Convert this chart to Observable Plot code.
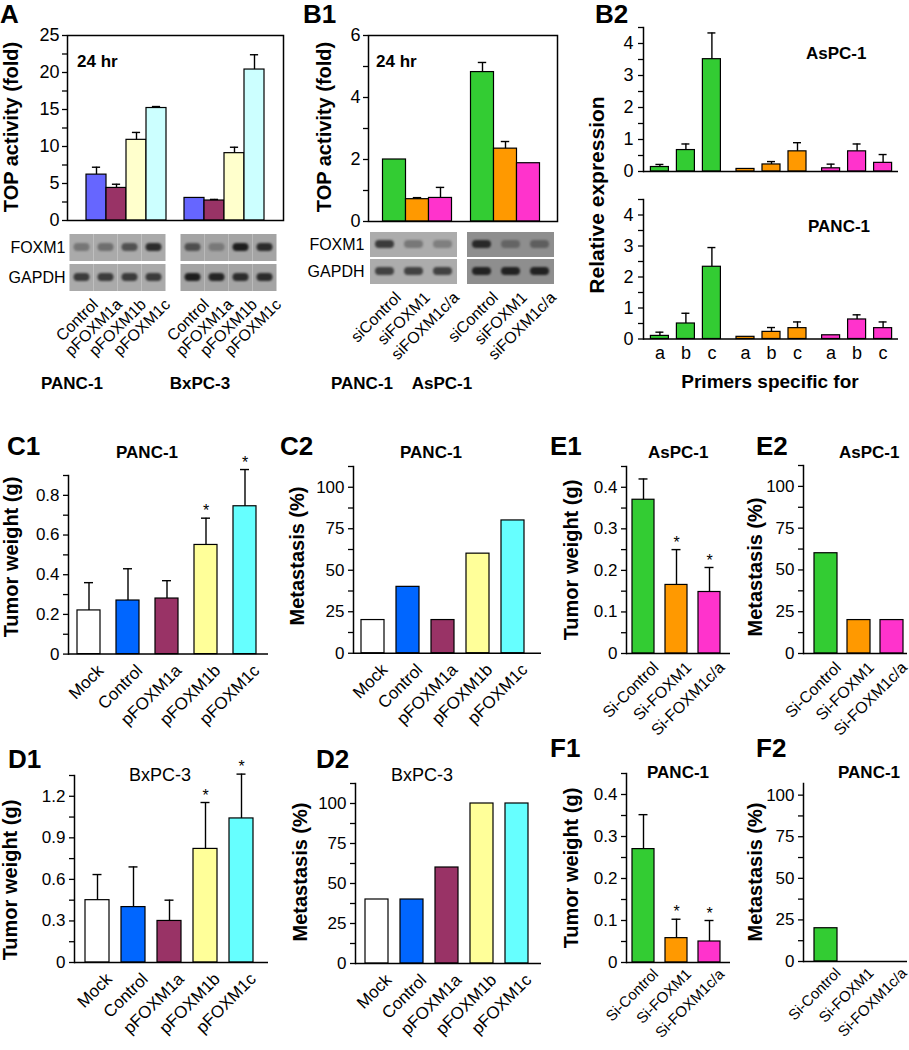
<!DOCTYPE html>
<html><head><meta charset="utf-8">
<script src="https://cdn.jsdelivr.net/npm/d3@7"></script>
<script src="https://cdn.jsdelivr.net/npm/@observablehq/plot@0.6"></script>
<style>
html,body{margin:0;padding:0;background:#fff;}
#fig{position:relative;width:909px;height:1050px;overflow:hidden;background:#fff;font-family:'Liberation Sans',Arial,Helvetica,sans-serif;}
#fig svg{overflow:visible;}
</style></head><body><div id="fig"></div>
<script>
// ================= DATA =================
// Panel A: TOP activity (fold), 24 hr
const aCells = ["PANC-1", "BxPC-3"];
const aConstructs = ["Control", "pFOXM1a", "pFOXM1b", "pFOXM1c"];
const aMean = [[6.2, 4.4, 10.9, 15.2], [3.05, 2.7, 9.1, 20.4]];
const aUpper = [[7.2, 4.9, 11.9, 15.4], [null, 2.85, 9.9, 22.4]];
const aColors = ["#6666ff", "#993366", "#ffffcc", "#ccffff"];
const aFoxm1Band = [[0.35, 0.4, 0.6, 0.85], [0.6, 0.3, 0.95, 0.85]];
const aGapdhBand = [[0.75, 0.75, 0.75, 0.75], [0.95, 0.9, 0.85, 0.85]];
const aTicks = [0, 2.5, 5, 7.5, 10, 12.5, 15, 17.5, 20, 22.5, 25];
const aTickLabels = ["0", "", "5", "", "10", "", "15", "", "20", "", "25"];

// Panel B1
const b1Cells = ["PANC-1", "AsPC-1"];
const b1Treatments = ["siControl", "siFOXM1", "siFOXM1c/a"];
const b1Mean = [[2.0, 0.72, 0.76], [4.82, 2.35, 1.88]];
const b1Upper = [[null, 0.77, 1.1], [5.13, 2.58, null]];
const siColors = ["#33cc33", "#ff9900", "#ff33cc"];
const b1Foxm1Band = [[0.75, 0.35, 0.3], [0.85, 0.35, 0.4]];
const b1GapdhBand = [[0.7, 0.7, 0.7], [0.9, 0.9, 0.9]];
const b1Ticks = [0, 1, 2, 3, 4, 5, 6];
const b1TickLabels = ["0", "", "2", "", "4", "", "6"];

// Panel B2: relative expression, primers a/b/c
const b2Primers = ["a", "b", "c"];
const b2AsPC1Mean = [[0.14, 0.67, 3.51], [0.08, 0.22, 0.63], [0.1, 0.63, 0.27]];
const b2AsPC1Upper = [[0.22, 0.86, 4.33], [null, 0.31, 0.9], [0.23, 0.86, 0.53]];
const b2PANC1Mean = [[0.1, 0.5, 2.33], [0.07, 0.23, 0.35], [0.12, 0.63, 0.35]];
const b2PANC1Upper = [[0.22, 0.83, 2.95], [null, 0.37, 0.55], [null, 0.78, 0.55]];
const b2Ticks = [0, 0.5, 1, 1.5, 2, 2.5, 3, 3.5, 4, 4.5];
const b2TickLabels = ["0", "", "1", "", "2", "", "3", "", "4", ""];

// Panels C/D
const cdConstructs = ["Mock", "Control", "pFOXM1a", "pFOXM1b", "pFOXM1c"];
const cdColors = ["#ffffff", "#0066ff", "#993366", "#ffff99", "#66ffff"];
const c1Weight = [0.22, 0.27, 0.28, 0.55, 0.745];
const c1Upper = [0.36, 0.43, 0.37, 0.685, 0.93];
const c1Star = [false, false, false, true, true];
const c2Metastasis = [20, 40, 20, 60, 80];
const d1Weight = [0.45, 0.40, 0.30, 0.82, 1.04];
const d1Upper = [0.635, 0.69, 0.45, 1.155, 1.36];
const d1Star = [false, false, false, true, true];
const d2Metastasis = [40, 40, 60, 100, 100];

// Panels E/F
const efTreatments = ["Si-Control", "Si-FOXM1", "Si-FOXM1c/a"];
const e1Weight = [0.37, 0.165, 0.148];
const e1Upper = [0.42, 0.25, 0.207];
const e1Star = [false, true, true];
const e2Metastasis = [60, 20, 20];
const f1Weight = [0.27, 0.058, 0.05];
const f1Upper = [0.352, 0.103, 0.10];
const f1Star = [false, true, true];
const f2Metastasis = [20, 0, 0];

const c1Ticks = [0, 0.1, 0.2, 0.3, 0.4, 0.5, 0.6, 0.7, 0.8, 0.9];
const c1TickLabels = ["0", "", "0.2", "", "0.4", "", "0.6", "", "0.8", ""];
const d1Ticks = [0, 0.15, 0.3, 0.45, 0.6, 0.75, 0.9, 1.05, 1.2, 1.35];
const d1TickLabels = ["0", "", "0.3", "", "0.6", "", "0.9", "", "1.2", ""];
const efTicks = [0, 0.05, 0.1, 0.15, 0.2, 0.25, 0.3, 0.35, 0.4, 0.45];
const efTickLabels = ["0", "", "0.1", "", "0.2", "", "0.3", "", "0.4", ""];
const pctTicks = [0, 12.5, 25, 37.5, 50, 62.5, 75, 87.5, 100, 112.5];
const pctTickLabels = ["0", "", "25", "", "50", "", "75", "", "100", ""];
const pctTicksShort = [0, 12.5, 25, 37.5, 50, 62.5, 75, 87.5, 100];
const pctTickLabelsShort = ["0", "", "25", "", "50", "", "75", "", "100"];

// ================= HELPERS =================
const FONT = "'Liberation Sans', Arial, Helvetica, sans-serif";
const root = document.getElementById("fig");
function place(node, x, y) {
  node.style.position = "absolute";
  node.style.left = x + "px";
  node.style.top = y + "px";
  root.appendChild(node);
}
function rowsGrouped(groups, items, mean, upper, colorOf) {
  const out = [];
  groups.forEach((g, gi) => items.forEach((it, ii) => out.push({
    group: gi, key: g + "|" + it, label: it,
    value: mean[gi][ii], upper: upper[gi][ii], color: colorOf(gi, ii), star: false
  })));
  return out;
}
function rowsSimple(items, mean, upper, colors, stars) {
  return items.map((it, i) => ({
    group: 0, key: it, label: it, value: mean[i],
    upper: upper ? upper[i] : null, color: colors[i], star: stars ? stars[i] : false
  }));
}

function barChart(cfg) {
  const {area, pad, rows, c0, cN, bw, offsets = [0], yDomain, ticks, tickLabels,
    fontSize = 17, framed = false, cap = 9, starDy = -7, rotLabels = false, rotFont = 17,
    rotDx = 7, rotDy = 9, primerLabels = false, tickPadding = 3} = cfg;
  const keys = rows.map(d => d.key);
  const bx = area.l - pad.l, by = area.t - pad.t;
  const width = area.r - area.l + pad.l + pad.r;
  const height = area.b - area.t + pad.t + pad.b;
  const n = keys.length;
  const s = (cN - c0) / (n - 1);
  const pi = Math.max(0, 1 - bw / s);
  const band = s * (1 - pi);
  const tickText = new Map(ticks.map((t, i) => [t, tickLabels[i]]));
  const marks = [];
  offsets.forEach((off, gi) => {
    const sub = rows.filter(d => d.group === gi);
    const errs = sub.filter(d => d.upper != null);
    marks.push(Plot.barY(sub, {x: "key", y: "value", fill: "color", stroke: "#000", strokeWidth: 1.2, dx: off}));
    marks.push(Plot.ruleX(errs, {x: "key", y1: "value", y2: "upper", stroke: "#000", strokeWidth: 1.4, dx: off}));
    marks.push(Plot.tickY(errs, {x: "key", y: "upper", stroke: "#000", strokeWidth: 1.4,
      insetLeft: (band - cap) / 2, insetRight: (band - cap) / 2, dx: off}));
    const stars = sub.filter(d => d.star);
    marks.push(Plot.text(stars, {x: "key", y: "upper", text: d => "*", fontSize: 16, dy: starDy, dx: off}));
    if (rotLabels) {
      marks.push(Plot.text(sub, {x: "key", text: "label", frameAnchor: "bottom", rotate: -45,
        textAnchor: "end", lineAnchor: "top", fontSize: rotFont, dx: off + rotDx, dy: rotDy}));
    }
    if (primerLabels) {
      marks.push(Plot.text(sub, {x: "key", text: "label", frameAnchor: "bottom", fontSize: 18, dx: off, dy: 20}));
    }
  });
  if (framed) {
    marks.push(Plot.frame({stroke: "#000", strokeWidth: 1.5}));
  } else {
    marks.push(Plot.frame({anchor: "left", stroke: "#000", strokeWidth: 1.5}));
    marks.push(Plot.ruleY([0], {stroke: "#000", strokeWidth: 1.5}));
  }
  marks.push(Plot.axisY({ticks, tickFormat: d => tickText.get(d) ?? "", tickSize: 5,
    tickPadding, fontSize, label: null, strokeWidth: 1.3}));
  const svg = Plot.plot({
    width, height,
    marginLeft: pad.l, marginRight: pad.r, marginTop: pad.t, marginBottom: pad.b,
    style: {fontFamily: FONT, fontSize: fontSize + "px", background: "transparent", overflow: "visible", color: "#000"},
    x: {type: "band", domain: keys, range: [c0 - s / 2 - bx, cN + s / 2 - bx], paddingInner: pi, paddingOuter: pi / 2, axis: null},
    y: {domain: yDomain},
    color: {type: "identity"},
    marks
  });
  place(svg, bx, by);
}

function blot(cfg) {
  const {area, pad, groups, lanesPer, c0, cN, offsets, foxm1, gapdh, bgs, laneInset, bandInsetTop, bandInsetBottom, rowPad} = cfg;
  const lanes = [];
  groups.forEach((g, gi) => lanesPer.forEach((ln, li) => lanes.push({group: gi, li, key: g + "|" + ln, label: ln})));
  const cells = [];
  lanes.forEach(l => {
    cells.push({...l, row: "FOXM1", intensity: foxm1[l.group][l.li], bg: bgs[l.group]});
    cells.push({...l, row: "GAPDH", intensity: gapdh[l.group][l.li], bg: bgs[l.group]});
  });
  const bx = area.l - pad.l, by = area.t - pad.t;
  const width = area.r - area.l + pad.l + pad.r;
  const height = area.b - area.t + pad.t + pad.b;
  const n = lanes.length;
  const s = (cN - c0) / (n - 1);
  const marks = [];
  offsets.forEach((off, gi) => {
    marks.push(Plot.cell(cells.filter(d => d.group === gi), {x: "key", y: "row", fill: "bg", dx: off}));
  });
  offsets.forEach((off, gi) => {
    marks.push(Plot.cell(cells.filter(d => d.group === gi), {x: "key", y: "row", fill: "#161616", fillOpacity: "intensity",
      insetLeft: laneInset, insetRight: laneInset, insetTop: bandInsetTop, insetBottom: bandInsetBottom, rx: 4, dx: off}));
  });
  offsets.forEach((off, gi) => {
    marks.push(Plot.text(lanes.filter(d => d.group === gi), {x: "key", text: "label", frameAnchor: "bottom", rotate: -45,
      textAnchor: "end", lineAnchor: "top", fontSize: 16, dx: off + 9, dy: 6}));
  });
  marks.push(Plot.axisY({tickSize: 0, tickPadding: 4, fontSize: 16, label: null}));
  const svg = Plot.plot({
    width, height,
    marginLeft: pad.l, marginRight: pad.r, marginTop: pad.t, marginBottom: pad.b,
    style: {fontFamily: FONT, fontSize: "16px", background: "transparent", overflow: "visible", color: "#000"},
    x: {type: "band", domain: lanes.map(d => d.key), range: [c0 - s / 2 - bx, cN + s / 2 - bx], padding: 0, axis: null},
    y: {type: "band", domain: ["FOXM1", "GAPDH"], paddingInner: rowPad, paddingOuter: 0},
    color: {type: "identity"},
    opacity: {type: "identity"},
    marks
  });
  const gs = svg.querySelectorAll('g[aria-label="cell"]');
  gs.forEach((g, i) => { if (i >= offsets.length) g.style.filter = "blur(1.3px)"; });
  place(svg, bx, by);
}

// ================= PANELS =================
// A
barChart({
  area: {l: 67, r: 283, t: 35, b: 220}, pad: {l: 67, r: 10, t: 35, b: 10},
  rows: rowsGrouped(aCells, aConstructs, aMean, aUpper, (g, i) => aColors[i]),
  c0: 102, cN: 247.6, bw: 20.8, offsets: [-9, 9], yDomain: [0, 25],
  ticks: aTicks, tickLabels: aTickLabels, fontSize: 18, framed: true, tickPadding: 3
});
blot({
  area: {l: 69, r: 277, t: 234, b: 291}, pad: {l: 69, r: 20, t: 5, b: 80},
  groups: aCells, lanesPer: aConstructs, c0: 88.6, cN: 258.4, offsets: [-7.5, 7.5],
  foxm1: aFoxm1Band, gapdh: aGapdhBand, bgs: ["#aaaaaa", "#a4a4a4"],
  laneInset: 4, bandInsetTop: 9, bandInsetBottom: 10, rowPad: 0.1
});
// B1
barChart({
  area: {l: 368, r: 557, t: 35, b: 221}, pad: {l: 60, r: 10, t: 10, b: 10},
  rows: rowsGrouped(b1Cells, b1Treatments, b1Mean, b1Upper, (g, i) => siColors[i]),
  c0: 402.2, cN: 520.2, bw: 23.6, offsets: [-9.5, 9.5], yDomain: [0, 6],
  ticks: b1Ticks, tickLabels: b1TickLabels, fontSize: 18, framed: true, tickPadding: 3
});
blot({
  area: {l: 368, r: 558, t: 232, b: 284}, pad: {l: 60, r: 20, t: 5, b: 80},
  groups: b1Cells, lanesPer: b1Treatments, c0: 387.85, cN: 536.35, offsets: [-5, 5],
  foxm1: b1Foxm1Band, gapdh: b1GapdhBand, bgs: ["#acacac", "#8e8e8e"],
  laneInset: 5, bandInsetTop: 8, bandInsetBottom: 9, rowPad: 0.08
});
// B2
barChart({
  area: {l: 643, r: 898, t: 27, b: 171}, pad: {l: 40, r: 10, t: 10, b: 10},
  rows: rowsGrouped(b1Treatments, b2Primers, b2AsPC1Mean, b2AsPC1Upper, (g, i) => siColors[g]),
  c0: 665.5, cN: 876.7, bw: 18, offsets: [-7.6, 0, 7.6], yDomain: [0, 4.5],
  ticks: b2Ticks, tickLabels: b2TickLabels, fontSize: 18, cap: 8, tickPadding: 5
});
barChart({
  area: {l: 643, r: 898, t: 198.5, b: 338}, pad: {l: 40, r: 10, t: 5, b: 40},
  rows: rowsGrouped(b1Treatments, b2Primers, b2PANC1Mean, b2PANC1Upper, (g, i) => siColors[g]),
  c0: 665.5, cN: 876.7, bw: 18, offsets: [-7.6, 0, 7.6], yDomain: [0, 4.5],
  ticks: b2Ticks, tickLabels: b2TickLabels, fontSize: 18, cap: 8, tickPadding: 5, primerLabels: true
});
// C1, C2
const bottomPad = {l: 60, r: 10, t: 20, b: 100};
barChart({
  area: {l: 68, r: 268, t: 475.4, b: 654}, pad: bottomPad,
  rows: rowsSimple(cdConstructs, c1Weight, c1Upper, cdColors, c1Star),
  c0: 87.5, cN: 246, bw: 23, yDomain: [0, 0.9], ticks: c1Ticks, tickLabels: c1TickLabels, rotLabels: true, tickPadding: 4
});
barChart({
  area: {l: 353, r: 541, t: 466.25, b: 653}, pad: bottomPad,
  rows: rowsSimple(cdConstructs, c2Metastasis, null, cdColors, null),
  c0: 371, cN: 513, bw: 23, yDomain: [0, 112.5], ticks: pctTicks, tickLabels: pctTickLabels, rotLabels: true, tickPadding: 4
});
// E1, E2
barChart({
  area: {l: 626, r: 730, t: 466, b: 653}, pad: bottomPad,
  rows: rowsSimple(efTreatments, e1Weight, e1Upper, siColors, e1Star),
  c0: 643, cN: 709, bw: 22, yDomain: [0, 0.45], ticks: efTicks, tickLabels: efTickLabels,
  rotLabels: true, rotFont: 16, rotDx: 8, rotDy: 7, tickPadding: 4
});
barChart({
  area: {l: 803, r: 907, t: 465, b: 653}, pad: bottomPad,
  rows: rowsSimple(efTreatments, e2Metastasis, null, siColors, null),
  c0: 825.5, cN: 891.5, bw: 23, yDomain: [0, 112.5], ticks: pctTicks, tickLabels: pctTickLabels,
  rotLabels: true, rotFont: 16, rotDx: 8, rotDy: 7, tickPadding: 4
});
// D1, D2
barChart({
  area: {l: 74, r: 268, t: 775, b: 962}, pad: bottomPad,
  rows: rowsSimple(cdConstructs, d1Weight, d1Upper, cdColors, d1Star),
  c0: 95.5, cN: 242, bw: 24, yDomain: [0, 1.35], ticks: d1Ticks, tickLabels: d1TickLabels, rotLabels: true, tickPadding: 4
});
barChart({
  area: {l: 355, r: 541, t: 783, b: 963}, pad: bottomPad,
  rows: rowsSimple(cdConstructs, d2Metastasis, null, cdColors, null),
  c0: 376, cN: 516.5, bw: 23, yDomain: [0, 112.5], ticks: pctTicks, tickLabels: pctTickLabels, rotLabels: true, tickPadding: 4
});
// F1, F2
barChart({
  area: {l: 626, r: 730, t: 773, b: 962}, pad: bottomPad,
  rows: rowsSimple(efTreatments, f1Weight, f1Upper, siColors, f1Star),
  c0: 643, cN: 709, bw: 22, yDomain: [0, 0.45], ticks: efTicks, tickLabels: efTickLabels,
  rotLabels: true, rotFont: 15, rotDx: 8, rotDy: 5, tickPadding: 4
});
barChart({
  area: {l: 803, r: 907, t: 783, b: 961}, pad: bottomPad,
  rows: rowsSimple(efTreatments, f2Metastasis, null, siColors, null),
  c0: 825.5, cN: 891.5, bw: 23, yDomain: [0, 107], ticks: pctTicksShort, tickLabels: pctTickLabelsShort,
  rotLabels: true, rotFont: 15, rotDx: 8, rotDy: 5, tickPadding: 4
});

// ================= TEXT LAYER =================
// [text, x, y, size, weight, anchor, rotate]
const labels = [
  ["A", 0, 23, 26, "bold", "start", 0],
  ["B1", 303, 23, 26, "bold", "start", 0],
  ["B2", 595, 23, 26, "bold", "start", 0],
  ["C1", 7, 455, 26, "bold", "start", 0],
  ["C2", 280, 455, 26, "bold", "start", 0],
  ["E1", 550, 455, 26, "bold", "start", 0],
  ["E2", 756, 455, 26, "bold", "start", 0],
  ["D1", 8, 768, 26, "bold", "start", 0],
  ["D2", 316, 768, 26, "bold", "start", 0],
  ["F1", 550, 757, 26, "bold", "start", 0],
  ["F2", 756, 757, 26, "bold", "start", 0],
  ["24 hr", 77, 67, 17, "bold", "start", 0],
  ["24 hr", 376, 67, 17, "bold", "start", 0],
  ["AsPC-1", 806, 59, 17, "bold", "start", 0],
  ["PANC-1", 808, 232, 17, "bold", "start", 0],
  ["PANC-1", 72, 389, 17, "bold", "middle", 0],
  ["BxPC-3", 200, 389, 17, "bold", "middle", 0],
  ["PANC-1", 362, 389, 17, "bold", "middle", 0],
  ["AsPC-1", 442, 389, 17, "bold", "middle", 0],
  ["Primers specific for", 770, 388, 19, "bold", "middle", 0],
  ["PANC-1", 116, 458, 17, "bold", "start", 0],
  ["PANC-1", 400, 458, 17, "bold", "start", 0],
  ["AsPC-1", 648, 458, 17, "bold", "start", 0],
  ["AsPC-1", 839, 458, 17, "bold", "start", 0],
  ["BxPC-3", 129, 781, 18, "normal", "start", 0],
  ["BxPC-3", 391, 781, 18, "normal", "start", 0],
  ["PANC-1", 647, 778, 17, "bold", "start", 0],
  ["PANC-1", 838, 778, 17, "bold", "start", 0],
  ["TOP activity (fold)", 11, 127, 20, "bold", "middle", -90],
  ["TOP activity (fold)", 324, 127, 20, "bold", "middle", -90],
  ["Relative expression", 597, 195, 21, "bold", "middle", -90],
  ["Tumor weight (g)", 11, 557, 20, "bold", "middle", -90],
  ["Metastasis (%)", 297, 556, 20, "bold", "middle", -90],
  ["Tumor weight (g)", 571, 560, 20, "bold", "middle", -90],
  ["Metastasis (%)", 755, 567, 20, "bold", "middle", -90],
  ["Tumor weight (g)", 10, 880, 20, "bold", "middle", -90],
  ["Metastasis (%)", 300, 872, 20, "bold", "middle", -90],
  ["Tumor weight (g)", 571, 868, 20, "bold", "middle", -90],
  ["Metastasis (%)", 755, 872, 20, "bold", "middle", -90]
];
const overlay = d3.create("svg").attr("width", 909).attr("height", 1050)
  .style("position", "absolute").style("left", "0px").style("top", "0px")
  .style("pointer-events", "none").attr("font-family", FONT);
for (const [t, x, y, size, weight, anchor, rot] of labels) {
  const el = overlay.append("text").text(t).attr("font-size", size).attr("font-weight", weight)
    .attr("text-anchor", anchor).attr("fill", "#000");
  if (rot) {
    el.attr("transform", `translate(${x},${y}) rotate(${rot})`).attr("dy", "0.35em");
  } else {
    el.attr("x", x).attr("y", y);
  }
}
root.appendChild(overlay.node());
</script></body></html>
